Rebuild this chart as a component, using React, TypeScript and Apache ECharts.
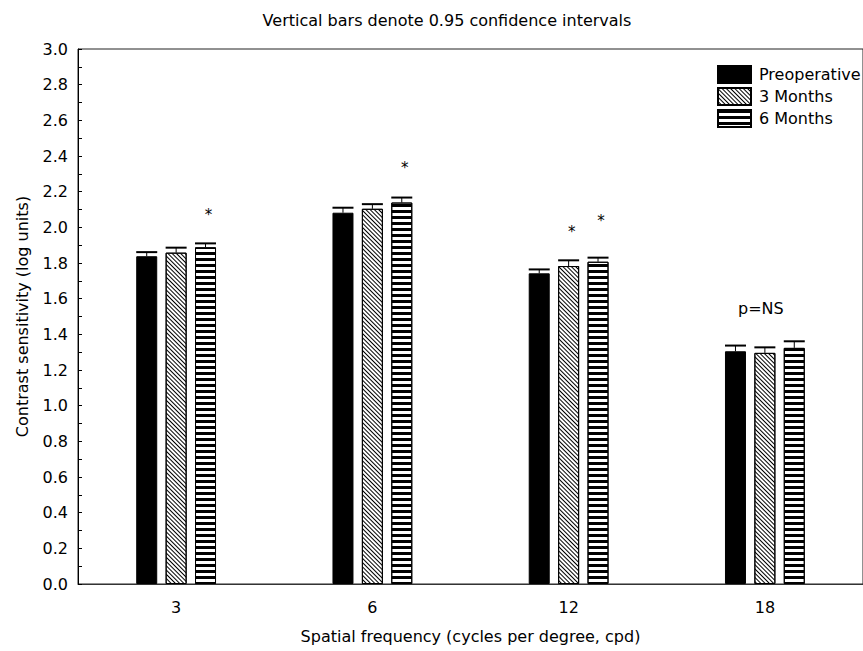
import React, { useEffect, useRef } from "react";
import * as echarts from "echarts";

const categories = ["3", "6", "12", "18"];
const seriesNames = ["Preoperative", "3 Months", "6 Months"];
const preop = [1.838, 2.082, 1.742, 1.305];
const months3 = [1.858, 2.104, 1.783, 1.296];
const months6 = [1.888, 2.139, 1.807, 1.324];
const preopHigh = [1.861, 2.11, 1.764, 1.337];
const months3High = [1.886, 2.13, 1.815, 1.327];
const months6High = [1.91, 2.167, 1.83, 1.361];
const yTicks = [0, 0.2, 0.4, 0.6, 0.8, 1.0, 1.2, 1.4, 1.6, 1.8, 2.0, 2.2, 2.4, 2.6, 2.8, 3.0];

// annotations: category index, series index (-1 = whole group), value, text
const noteCategory = [0, 1, 2, 2, 3];
const noteSeries = [2, 2, 1, 2, -1];
const noteValue = [2.09, 2.354, 1.994, 2.056, 1.545];
const noteText = ["*", "*", "*", "*", "p=NS"];

const FONT = "DejaVu Sans";
const FS = 16;
const BAR_W = 21;
const BAR_GAP = 0.4;
const OFFSETS = [-(BAR_W * (1 + BAR_GAP)), 0, BAR_W * (1 + BAR_GAP)];

export default function App() {
  const ref = useRef<HTMLDivElement>(null);
  useEffect(() => {
    const chart = echarts.init(ref.current!, null, { renderer: "svg" });
    const values = [preop, months3, months6];
    const highs = [preopHigh, months3High, months6High];
    const styles: any[] = [
      { color: "#000", borderColor: "#000", borderWidth: 1 },
      {
        color: "#fff",
        borderColor: "#000",
        borderWidth: 1,
        decal: {
          symbol: "rect",
          symbolSize: 1,
          color: "#000",
          backgroundColor: "#fff",
          dashArrayX: [1, 0],
          dashArrayY: [1, 2],
          rotation: Math.PI / 4,
        },
      },
      {
        color: "#fff",
        borderColor: "#000",
        borderWidth: 1,
        decal: {
          symbol: "rect",
          symbolSize: 1,
          color: "#000",
          backgroundColor: "#fff",
          dashArrayX: [1, 0],
          dashArrayY: [3, 3],
          rotation: 0,
        },
      },
    ];
    const barSeries = seriesNames.map((name, s) => ({
      name,
      type: "bar",
      data: values[s],
      barWidth: BAR_W,
      barGap: BAR_GAP * 100 + "%",
      itemStyle: styles[s],
      z: 2,
    }));
    const errSeries = seriesNames.map((_, s) => ({
      type: "custom",
      z: 5,
      itemStyle: { color: "#000" },
      data: categories.map((_, i) => [i, values[s][i], highs[s][i]]),
      renderItem: (params: any, api: any) => {
        const base = api.coord([api.value(0), api.value(1)]);
        const top = api.coord([api.value(0), api.value(2)]);
        const x = base[0] + OFFSETS[s];
        const hw = BAR_W / 2;
        return {
          type: "group",
          children: [
            { type: "line", shape: { x1: x, y1: base[1], x2: x, y2: top[1] }, style: { stroke: "#000", lineWidth: 1 } },
            { type: "line", shape: { x1: x - hw, y1: top[1], x2: x + hw, y2: top[1] }, style: { stroke: "#000", lineWidth: 2 } },
          ],
        };
      },
    }));
    const noteSeriesDef = {
      type: "custom",
      z: 6,
      itemStyle: { color: "#000" },
      data: noteCategory.map((c, i) => [c, noteValue[i]]),
      renderItem: (params: any, api: any) => {
        const idx = params.dataIndex;
        const p = api.coord([api.value(0), api.value(1)]);
        const s = noteSeries[idx];
        const isStar = noteText[idx] === "*";
        const x = p[0] + (s >= 0 ? OFFSETS[s] : -4) + (isStar ? 3 : 0);
        return {
          type: "text",
          x,
          y: p[1] + (isStar ? 4 : 0),
          style: {
            text: noteText[idx],
            fill: "#000",
            font: `${isStar ? 15 : FS}px "${FONT}"`,
            align: "center",
            verticalAlign: "middle",
          },
        };
      },
    };
    chart.setOption({
      animation: false,
      backgroundColor: "#fff",
      title: {
        text: "Vertical bars denote 0.95 confidence intervals",
        left: 442,
        top: 7,
        textAlign: "center",
        textStyle: { fontFamily: FONT, fontSize: FS, fontWeight: "normal", color: "#000" },
      },
      legend: {
        data: seriesNames,
        orient: "vertical",
        left: 717,
        top: 65,
        padding: 0,
        itemWidth: 33,
        itemHeight: 17,
        itemGap: 3,
        icon: "rect",
        textStyle: { fontFamily: FONT, fontSize: FS, lineHeight: 17, color: "#000", padding: [0, 0, 0, 3] },
      },
      grid: {
        left: 78,
        top: 49,
        width: 796,
        height: 535,
        show: true,
        borderColor: "#222",
        borderWidth: 1,
        backgroundColor: "transparent",
      },
      xAxis: {
        type: "category",
        data: categories,
        boundaryGap: true,
        axisTick: { show: false },
        axisLine: { lineStyle: { color: "#333", width: 1 } },
        axisLabel: { fontFamily: FONT, fontSize: FS, color: "#000", margin: 15 },
        name: "Spatial frequency (cycles per degree, cpd)",
        nameLocation: "middle",
        nameGap: 44,
        nameTextStyle: { fontFamily: FONT, fontSize: FS, color: "#000" },
      },
      yAxis: {
        type: "value",
        min: 0,
        max: 3,
        interval: 0.2,
        splitLine: { show: false },
        axisLine: { show: true, lineStyle: { color: "#000", width: 1 } },
        axisTick: { show: true, inside: true, length: 4, lineStyle: { color: "#000" } },
        minorTick: { show: true, splitNumber: 2, length: 4, lineStyle: { color: "#000" } },
        axisLabel: {
          fontFamily: FONT,
          fontSize: FS,
          color: "#000",
          margin: 10,
          formatter: (v: number) => (yTicks.some((t) => Math.abs(t - v) < 1e-6) ? v.toFixed(1) : ""),
        },
        name: "Contrast sensitivity (log units)",
        nameLocation: "middle",
        nameGap: 48,
        nameTextStyle: { fontFamily: FONT, fontSize: FS, color: "#000" },
      },
      series: [...barSeries, ...errSeries, noteSeriesDef],
    });
    return () => chart.dispose();
  }, []);
  return <div ref={ref} style={{ position: "fixed", left: 0, top: 0, width: 863, height: 651 }} />;
}
